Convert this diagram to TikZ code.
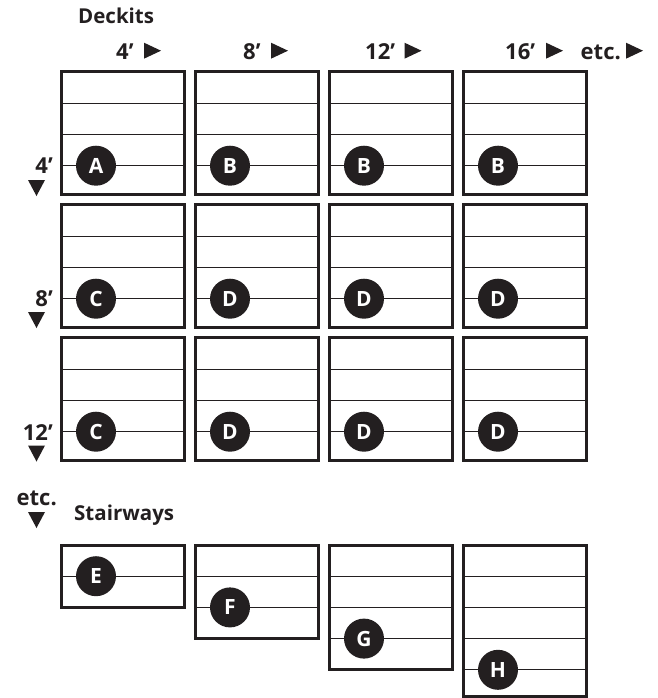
\documentclass[tikz,border=0pt]{standalone}
\usepackage{fontspec}
\setmainfont{Open Sans}
\definecolor{ink}{HTML}{231F20}
\begin{document}
\begin{tikzpicture}[x=1pt,y=-1pt,
  frame/.style={draw=ink, line width=3pt},
  rule/.style={draw=ink, line width=1.3pt},
  badge/.style={circle, fill=ink, minimum size=40pt, inner sep=0pt, text=white, font=\bfseries\fontsize{21}{21}\selectfont},
  lbl/.style={text=ink, inner sep=0pt, font=\bfseries\fontsize{22}{22}\selectfont},
  head/.style={text=ink, inner sep=0pt, font=\bfseries\fontsize{20.5}{20.5}\selectfont},
  rtri/.style={fill=ink},
]
\useasboundingbox (0,0) rectangle (657,698);

% headings
\node[head, anchor=base west] (deckits) at (78,24) {Deckits};
\node[head, anchor=base west] (stairways) at (74,520.5) {Stairways};

% column labels
\node[lbl, anchor=base west] (c4) at (116,59.5) {4’};
\node[lbl, anchor=base west] (c8) at (243,59.5) {8’};
\node[lbl, anchor=base west] (c12) at (365,59.5) {12’};
\node[lbl, anchor=base west] (c16) at (505,59.5) {16’};
\node[lbl, anchor=base west] (cetc) at (580.5,59.5) {etc.};
\foreach \x in {144,271,404.5,546,626}
  \fill[rtri] (\x,42.7) -- ++(17,8) -- ++(-17,8) -- cycle;

% row labels
\node[lbl, anchor=base east] (r4) at (53,173) {4’};
\node[lbl, anchor=base east] (r8) at (53,306) {8’};
\node[lbl, anchor=base east] (r12) at (53,440) {12’};
\node[lbl, anchor=base east] (retc) at (57,505) {etc.};
\foreach \y in {180,312,445.5,512}
  \fill[rtri] (28,\y) -- ++(17,0) -- ++(-8.5,16) -- cycle;

% deck grid
\foreach \i/\j/\l in {0/0/A,1/0/B,2/0/B,3/0/B,0/1/C,1/1/D,2/1/D,3/1/D,0/2/C,1/2/D,2/2/D,3/2/D}{
  \pgfmathsetmacro\xa{61.5+134*\i}
  \pgfmathsetmacro\ya{71.5+133*\j}
  \foreach \k in {31.8,63.2,94.2}
    \draw[rule] (\xa,\ya+\k) -- (\xa+123,\ya+\k);
  \draw[frame] (\xa,\ya) rectangle (\xa+123,\ya+123);
  \node[badge] (d\i\j) at (\xa+34.5,\ya+94.2) {\l};
}

% stairways
\foreach \i/\n/\l in {0/2/E,1/3/F,2/4/G,3/5/H}{
  \pgfmathsetmacro\xa{61.5+134*\i}
  \pgfmathsetmacro\yb{min(545+31.2*\n,696.3)}
  \pgfmathtruncatemacro\m{\n-1}
  \foreach \k in {1,...,\m}
    \draw[rule] (\xa,545+31.2*\k) -- (\xa+123,545+31.2*\k);
  \draw[frame] (\xa,545) rectangle (\xa+123,\yb);
  \node[badge] (s\i) at (\xa+34.5,545+31.2*\m) {\l};
}
\end{tikzpicture}
\end{document}
